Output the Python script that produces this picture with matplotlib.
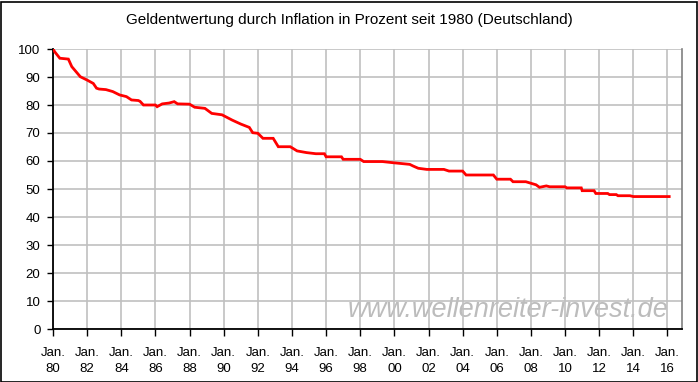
import matplotlib
matplotlib.use('Agg')
import matplotlib.pyplot as plt
from matplotlib.patches import Rectangle

plt.rcParams['font.family'] = ['Liberation Sans', 'DejaVu Sans']

# Kaufkraft in Prozent
years = [1980.0, 1980.1, 1980.4, 1980.9, 1981.1, 1981.6, 1982.0, 1982.36, 1982.55, 1982.7,
         1983.1, 1983.5, 1983.9, 1984.3, 1984.6, 1985.0, 1985.1, 1985.3, 1986.0, 1986.1,
         1986.4, 1986.8, 1987.1, 1987.3, 1988.0, 1988.3, 1988.9, 1989.3, 1989.9, 1990.5,
         1991.0, 1991.5, 1991.7, 1992.0, 1992.3, 1992.9, 1993.2, 1993.9, 1994.3, 1994.85,
         1995.4, 1995.9, 1996.0, 1996.9, 1997.0, 1998.0, 1998.2, 1999.3, 1999.9, 2000.9,
         2001.1, 2001.4, 2001.9, 2002.9, 2003.2, 2004.0, 2004.2, 2005.8, 2006.0, 2006.8,
         2006.95, 2007.7, 2008.3, 2008.5, 2008.9, 2009.1, 2010.0, 2010.1, 2010.95, 2011.0,
         2011.7, 2011.8, 2012.5, 2012.6, 2013.0, 2013.1, 2013.8, 2014.0, 2016.1]
values = [100.0, 99.0, 96.7, 96.4, 93.7, 90.1, 88.9, 87.7, 86.0, 85.7,
          85.5, 84.8, 83.6, 83.0, 81.8, 81.6, 81.3, 80.0, 80.0, 79.4,
          80.4, 80.7, 81.2, 80.4, 80.3, 79.2, 78.8, 77.0, 76.5, 74.6,
          73.2, 72.0, 70.1, 69.9, 68.1, 68.1, 65.1, 65.1, 63.6, 63.0,
          62.6, 62.6, 61.5, 61.5, 60.6, 60.6, 59.8, 59.8, 59.4, 58.8,
          58.2, 57.4, 57.0, 57.0, 56.4, 56.4, 55.0, 55.0, 53.5, 53.5,
          52.6, 52.6, 51.5, 50.6, 51.1, 50.8, 50.8, 50.4, 50.4, 49.4,
          49.4, 48.4, 48.4, 48.0, 48.0, 47.6, 47.6, 47.3, 47.3]

tick_years = list(range(1980, 2017, 2))
tick_labels = [f'Jan.\n{y % 100:02d}' for y in tick_years]
y_ticks = list(range(0, 101, 10))

fig = plt.figure(figsize=(6.98, 3.82), dpi=100)
ax = fig.add_axes([53 / 698, 53 / 382, 629 / 698, 280 / 382])

ax.plot(years, values, color='#ff0000', lw=2.0, solid_joinstyle='miter', zorder=3)

ax.set_xlim(1980, 2016.85)
ax.set_ylim(0, 100)
ax.set_xticks(tick_years)
ax.set_xticklabels(tick_labels, fontsize=9.5, linespacing=1.45)
ax.set_yticks(y_ticks)
ax.set_yticklabels([str(v) for v in y_ticks], fontsize=9.5)
ax.tick_params(axis='x', length=5, width=1, pad=8, colors='black')
ax.tick_params(axis='y', length=4, width=1, pad=5, colors='black')

ax.set_axisbelow(True)
ax.grid(True, color='#c0c0c0', lw=1.2)
for side in ['left', 'bottom']:
    ax.spines[side].set_color('black')
    ax.spines[side].set_linewidth(1.3)
ax.spines['top'].set_visible(False)
ax.spines['right'].set_color('#808080')
ax.spines['right'].set_linewidth(1.2)

# Wasserzeichen
ax.text(2016.05, 4.3, 'www.wellenreiter-invest.de', ha='right', va='baseline',
        fontsize=19.5, style='italic', color='#bcbcbc', zorder=0)

fig.text(0.5, 1 - 20 / 382, 'Geldentwertung durch Inflation in Prozent seit 1980 (Deutschland)',
         ha='center', va='center', fontsize=11)

fig.patches.append(Rectangle((0.5 / 698, 0.5 / 382), 1 - 2 / 698, 1 - 2 / 382,
                             transform=fig.transFigure, fill=False, edgecolor='black', lw=1.2))

fig.savefig('out.png', dpi=100)
